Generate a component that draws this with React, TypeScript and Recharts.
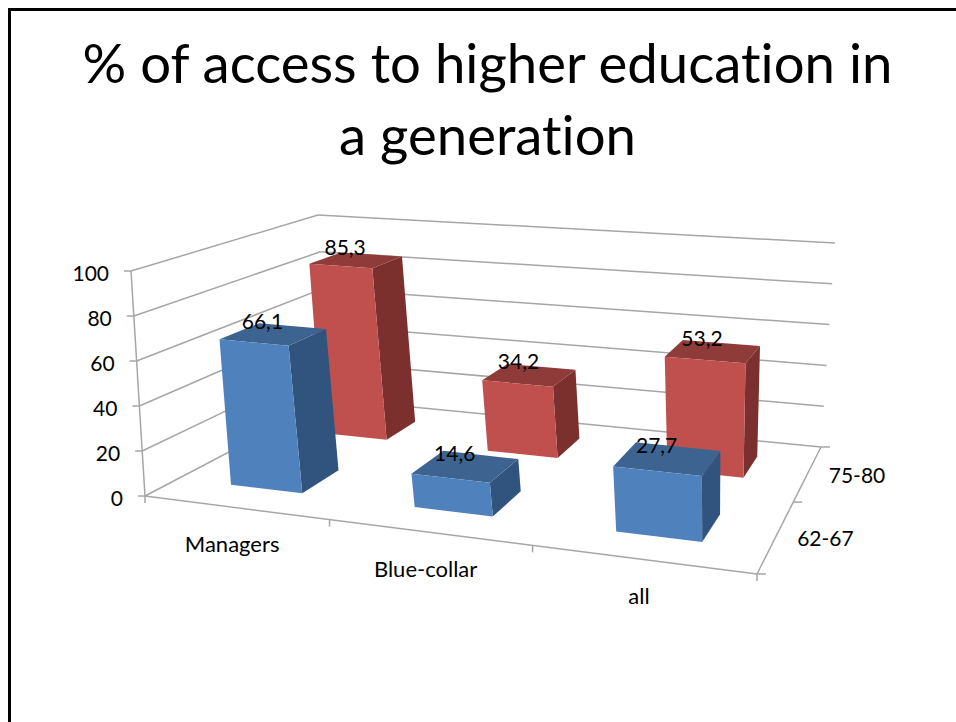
import { BarChart, Bar, XAxis, YAxis, LabelList, CartesianGrid } from 'recharts'

const categories = ['Managers', 'Blue-collar', 'all']
const seriesFront = [66.1, 14.6, 27.7]
const seriesBack = [85.3, 34.2, 53.2]
const depthLabels = ['62-67', '75-80']
const valueTicks = [0, 20, 40, 60, 80, 100]
const depthTicks = [0, 0.5, 1, 1.5, 2]

const WIDTH = 956
const HEIGHT = 722
// axes need a non-zero size to draw, so the plot loses 1px left and 2px at the bottom
const PLOT_LEFT = 1
const PLOT_W = WIDTH - 1
const PLOT_H = HEIGHT - 2
const BAR_SIZE = 127
const FONT = 'Lato, "Open Sans", sans-serif'
const GRID = '#a6a6a6'

const chartData = categories.map((category, i) => ({
  category,
  front: seriesFront[i],
  back: seriesBack[i],
}))

type Pt = [number, number]

// unit square -> picture quad, order: front-left, front-right, back-right, back-left
function homography(q: Pt[]) {
  const [[x0, y0], [x1, y1], [x2, y2], [x3, y3]] = q
  const dx1 = x1 - x2
  const dx2 = x3 - x2
  const sx = x0 - x1 + x2 - x3
  const dy1 = y1 - y2
  const dy2 = y3 - y2
  const sy = y0 - y1 + y2 - y3
  const den = dx1 * dy2 - dx2 * dy1
  const g = (sx * dy2 - dx2 * sy) / den
  const h = (dx1 * sy - sx * dy1) / den
  const a = x1 - x0 + g * x1
  const b = x3 - x0 + h * x3
  const d = y1 - y0 + g * y1
  const e = y3 - y0 + h * y3
  return (u: number, v: number): Pt => {
    const w = g * u + h * v + 1
    return [(a * u + b * v + x0) / w, (d * u + e * v + y0) / w]
  }
}

const floor = homography([[145, 496], [757, 574], [821, 447], [330, 399]])
const ceiling = homography([[131, 271], [765, 326], [835, 243], [318, 215]])

// u along categories, d into the depth, h up the value axis, all 0..1
function project(u: number, d: number, h: number): Pt {
  const a = floor(u, d)
  const b = ceiling(u, d)
  return [a[0] + (b[0] - a[0]) * h, a[1] + (b[1] - a[1]) * h]
}

const toU = (x: number) => (x - PLOT_LEFT) / PLOT_W
const path = (pts: Pt[]) => pts.map((p) => p.join(',')).join(' ')

function Seg({ from, to }: { from: Pt; to: Pt }) {
  return <line x1={from[0]} y1={from[1]} x2={to[0]} y2={to[1]} stroke={GRID} strokeWidth={1.5} />
}

function AxisText({ x, y, anchor = 'middle', size = 21, children }: any) {
  return (
    <text x={x} y={y} textAnchor={anchor} dominantBaseline="central" fontFamily={FONT} fontSize={size} fill="#000">
      {children}
    </text>
  )
}

// grid lines run along the left and back walls, behind the bars
function WallLine({ y1 }: any) {
  const h = 1 - y1 / PLOT_H
  const corner = project(0, 0, h)
  const back = project(0, 1, h)
  const end = project(1, 1, h)
  return (
    <g>
      <Seg from={corner} to={back} />
      <Seg from={back} to={end} />
      {h < 0.001 && (
        <>
          <Seg from={corner} to={project(0, 0, 1)} />
          <Seg from={corner} to={project(1, 0, 0)} />
          <Seg from={project(1, 0, 0)} to={project(1, 1, 0)} />
        </>
      )}
    </g>
  )
}

function ValueTick({ payload }: any) {
  const corner = project(0, 0, payload.value / 100)
  return (
    <g>
      <Seg from={[corner[0] - 7, corner[1]]} to={corner} />
      <AxisText x={corner[0] - 22} y={corner[1] + 1} anchor="end">
        {payload.value}
      </AxisText>
    </g>
  )
}

function CategoryTick({ payload, index }: any) {
  const u = toU(payload.coordinate)
  const step = 1 / categories.length
  const at = project(u, 0, 0)
  const mark = (t: number, key: number) => {
    const p = project(t, 0, 0)
    return <Seg key={key} from={p} to={[p[0], p[1] + 7]} />
  }
  return (
    <g>
      {mark(u - step / 2, 0)}
      {index === categories.length - 1 && mark(u + step / 2, 1)}
      <AxisText x={at[0] - 3} y={at[1] + 36} size={22}>
        {payload.value}
      </AxisText>
    </g>
  )
}

function DepthTick({ payload }: any) {
  const d = payload.value / 2
  const p = project(1, d, 0)
  if (Number.isInteger(payload.value)) {
    return <Seg from={p} to={[p[0] + 9, p[1]]} />
  }
  return (
    <AxisText x={p[0] + 49} y={p[1] + 2}>
      {depthLabels[Math.floor(payload.value)]}
    </AxisText>
  )
}

const palette = {
  blue: { front: '#4f81bd', side: '#31547e', top: '#3d6491' },
  red: { front: '#c0504d', side: '#7c302e', top: '#8f3b39' },
}

// half of the bar's extent along the depth axis, in 0..1 units
const DEPTH_HALF = 0.1

function Box({ x, width, height, row, colors }: any) {
  const u0 = toU(x)
  const u1 = toU(x + width)
  const h = height / PLOT_H
  const d0 = (row + 0.5) / 2 - DEPTH_HALF
  const d1 = (row + 0.5) / 2 + DEPTH_HALF
  return (
    <g>
      <polygon fill={colors.side} points={path([project(u1, d0, 0), project(u1, d1, 0), project(u1, d1, h), project(u1, d0, h)])} />
      <polygon fill={colors.top} points={path([project(u0, d0, h), project(u1, d0, h), project(u1, d1, h), project(u0, d1, h)])} />
      <polygon fill={colors.front} points={path([project(u0, d0, 0), project(u1, d0, 0), project(u1, d0, h), project(u0, d0, h)])} />
    </g>
  )
}

function BoxLabel({ x, width, height, value, row }: any) {
  const p = project(toU(x + width / 2), (row + 0.5) / 2, height / PLOT_H)
  return (
    <text x={p[0] - 11} y={p[1] - 14} textAnchor="middle" dominantBaseline="central" fontFamily={FONT} fontSize={21} fill="#000">
      {String(value).replace('.', ',')}
    </text>
  )
}

export default function App() {
  return (
    <div style={{ position: 'absolute', left: 0, top: 0, width: WIDTH, height: HEIGHT, background: '#fff', overflow: 'hidden', fontVariantLigatures: 'none' }}>
      <div style={{ position: 'absolute', left: 8, top: 8, width: WIDTH, height: HEIGHT, borderLeft: '3px solid #000', borderTop: '3px solid #000' }} />
      <div style={{ position: 'absolute', left: 0, top: 26, width: 975, textAlign: 'center', fontFamily: FONT, fontSize: 54.5, lineHeight: '72px', color: '#000' }}>
        % of access to higher education in
        <br />
        a generation
      </div>
      <div style={{ position: 'absolute', left: 0, top: 0 }}>
        <BarChart width={WIDTH} height={HEIGHT} data={chartData} margin={{ top: 0, right: 0, bottom: 0, left: 0 }} barSize={BAR_SIZE} barGap={-BAR_SIZE}>
          <CartesianGrid vertical={false} horizontal={(p: any) => <WallLine key={p.key ?? p.index} {...p} />} />
          <YAxis type="number" width={1} domain={[0, 100]} ticks={valueTicks} axisLine={false} tickLine={false} tick={<ValueTick />} interval={0} />
          <XAxis dataKey="category" height={1} axisLine={false} tickLine={false} tick={<CategoryTick />} interval={0} />
          <XAxis xAxisId="depth" type="number" domain={[0, 2]} ticks={depthTicks} height={1} axisLine={false} tickLine={false} tick={<DepthTick />} interval={0} />
          <Bar dataKey="back" isAnimationActive={false} shape={(p: any) => <Box {...p} row={1} colors={palette.red} />}>
            <LabelList dataKey="back" content={(p: any) => <BoxLabel {...p} row={1} />} />
          </Bar>
          <Bar dataKey="front" isAnimationActive={false} shape={(p: any) => <Box {...p} row={0} colors={palette.blue} />}>
            <LabelList dataKey="front" content={(p: any) => <BoxLabel {...p} row={0} />} />
          </Bar>
        </BarChart>
      </div>
    </div>
  )
}
